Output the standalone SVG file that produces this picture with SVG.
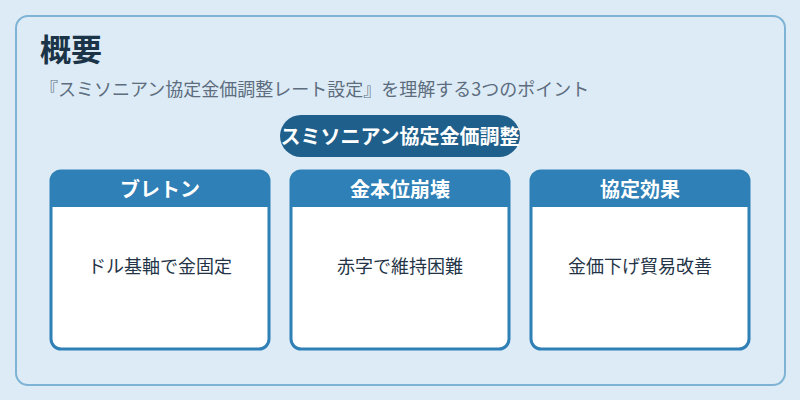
<svg xmlns="http://www.w3.org/2000/svg" width="800" height="400" viewBox="0 0 800 400">
<style>
.t{font-family:"Noto Sans CJK JP","Noto Sans",sans-serif}
.card{fill:#ffffff;stroke:#2e80b6;stroke-width:3}
.hdr{fill:#2e80b6}
.ht{font-size:20px;font-weight:bold;fill:#ffffff;text-anchor:middle}
.bt{font-size:18px;fill:#243447;text-anchor:middle}
</style>
<rect width="800" height="400" fill="#dcebf6"/>
<rect x="16" y="16" width="769" height="369" rx="12" fill="#dcebf6" stroke="#7fb3d5" stroke-width="2"/>
<text class="t" x="40" y="61" font-size="31" font-weight="bold" fill="#1b3447">概要</text>
<text class="t" x="40" y="96" font-size="18" fill="#5d6d7e">『スミソニアン協定金価調整レート設定』を理解する3つのポイント</text>
<g id="center">
<rect x="280" y="115" width="240" height="42" rx="21" fill="#1f5f8b"/>
<text class="t" x="400" y="144" font-size="20" font-weight="bold" fill="#ffffff" text-anchor="middle">スミソニアン協定金価調整</text>
</g>
<g id="connectors"></g>
<g id="card1">
<rect class="card" x="51" y="171" width="218" height="178" rx="10"/>
<path class="hdr" d="M51 207 V181 A10 10 0 0 1 61 171 H259 A10 10 0 0 1 269 181 V207 Z"/>
<text class="t ht" x="160" y="197">ブレトン</text>
<text class="t bt" x="160" y="273">ドル基軸で金固定</text>
</g>
<g id="card2">
<rect class="card" x="291" y="171" width="218" height="178" rx="10"/>
<path class="hdr" d="M291 207 V181 A10 10 0 0 1 301 171 H499 A10 10 0 0 1 509 181 V207 Z"/>
<text class="t ht" x="400" y="197">金本位崩壊</text>
<text class="t bt" x="400" y="273">赤字で維持困難</text>
</g>
<g id="card3">
<rect class="card" x="531" y="171" width="218" height="178" rx="10"/>
<path class="hdr" d="M531 207 V181 A10 10 0 0 1 541 171 H739 A10 10 0 0 1 749 181 V207 Z"/>
<text class="t ht" x="640" y="197">協定効果</text>
<text class="t bt" x="640" y="273">金価下げ貿易改善</text>
</g>
</svg>
